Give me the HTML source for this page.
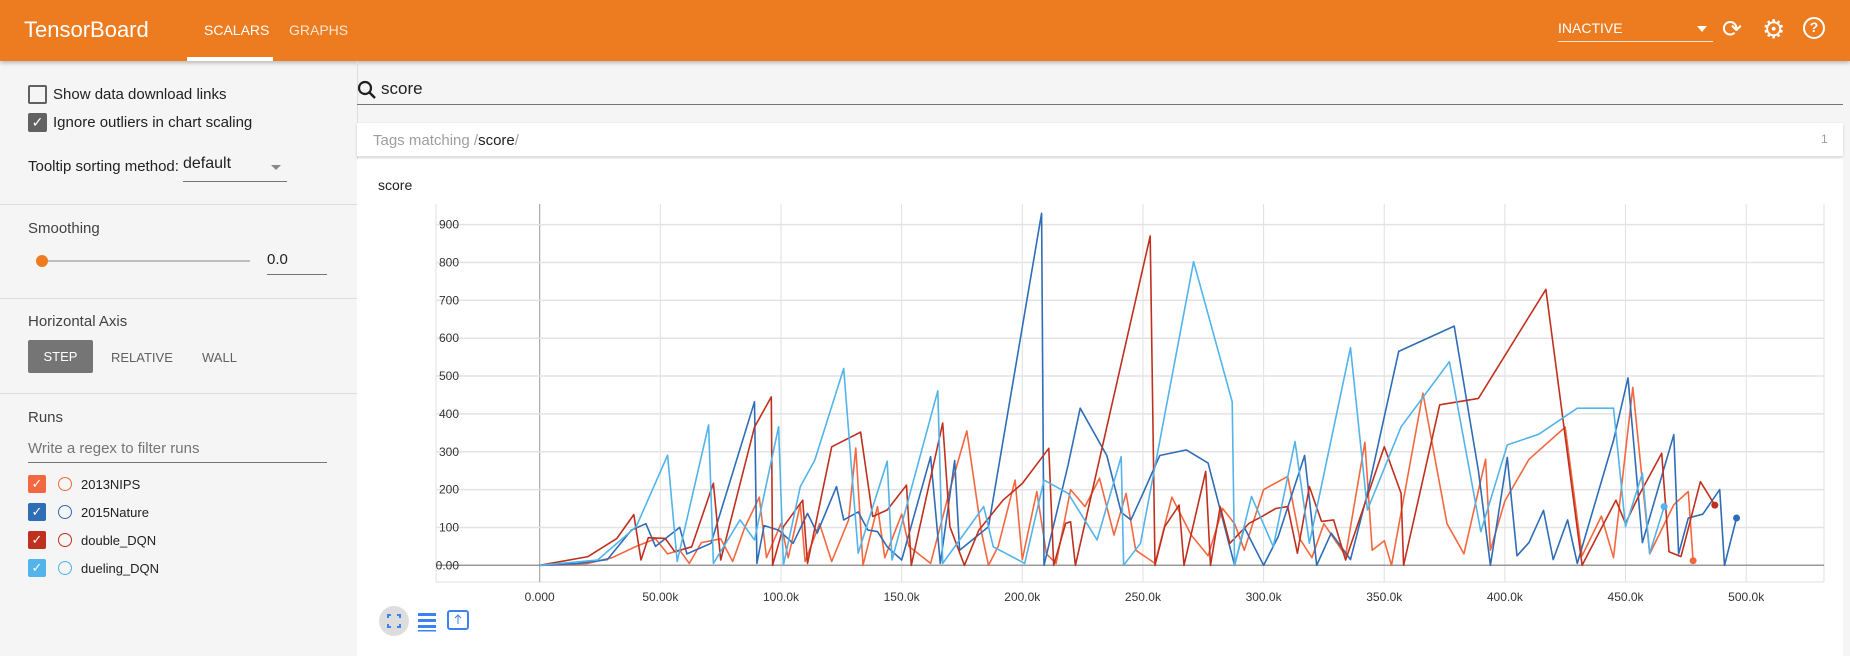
<!DOCTYPE html>
<html><head><meta charset="utf-8"><style>
*{box-sizing:border-box;margin:0;padding:0}
body{width:1850px;height:656px;overflow:hidden;background:#f5f5f5;font-family:"Liberation Sans",sans-serif;position:relative;color:#212121}
.abs{position:absolute}
#hdr{left:0;top:0;width:1850px;height:61px;background:#ec7c1f;box-shadow:0 2px 4px rgba(0,0,0,.25)}
.t15{font-size:15px}
.cb{width:19px;height:19px;border:2px solid #616161;border-radius:2px}
.div{left:0;width:357px;height:1px;background:#ddd}
</style></head><body>
<div id="hdr" class="abs">
 <div class="abs" style="left:24px;top:17px;font-size:22px;color:#fff">TensorBoard</div>
 <div class="abs" style="left:204px;top:22px;font-size:14px;color:#fff">SCALARS</div>
 <div class="abs" style="left:187px;top:57px;width:86px;height:4px;background:#fff"></div>
 <div class="abs" style="left:289px;top:22px;font-size:14px;color:rgba(255,255,255,.8)">GRAPHS</div>
 <div class="abs" style="left:1558px;top:20px;width:155px;height:22px;border-bottom:1px solid rgba(255,255,255,.8);color:#fff;font-size:14px">INACTIVE<span style="position:absolute;right:6px;top:6px;border:5px solid transparent;border-top:6px solid #fff"></span></div>
 <div class="abs" style="left:1722px;top:15px;font-size:24px;color:#fff">⟳</div>
 <div class="abs" style="left:1762px;top:14px;font-size:26px;color:#fff">⚙</div>
 <div class="abs" style="left:1803px;top:17px;width:22px;height:22px;border:2.5px solid #fff;border-radius:50%;color:#fff;font-size:14px;font-weight:bold;text-align:center;line-height:17px">?</div>
</div>
<!-- sidebar -->
<div class="abs" style="left:357px;top:61px;width:1px;height:595px;background:#ddd"></div>
<div class="abs cb" style="left:28px;top:85px"></div>
<div class="abs t15" style="left:53px;top:86px">Show data download links</div>
<div class="abs cb" style="left:28px;top:113px;background:#616161;color:#fff;font-size:14px;text-align:center;line-height:15px">✓</div>
<div class="abs t15" style="left:53px;top:114px">Ignore outliers in chart scaling</div>
<div class="abs t15" style="left:28px;top:158px">Tooltip sorting method:</div>
<div class="abs" style="left:183px;top:155px;width:104px;height:27px;border-bottom:1px solid #757575;font-size:16px">default<span style="position:absolute;right:6px;top:10px;border:5px solid transparent;border-top:5px solid #888"></span></div>
<div class="abs div" style="top:204px"></div>
<div class="abs t15" style="left:28px;top:220px;color:#424242">Smoothing</div>
<div class="abs" style="left:42px;top:260px;width:208px;height:2px;background:#bdbdbd"></div>
<div class="abs" style="left:36px;top:255px;width:12px;height:12px;border-radius:50%;background:#ec7c1f"></div>
<div class="abs" style="left:267px;top:251px;width:60px;height:24px;border-bottom:1px solid #757575;font-size:15px">0.0</div>
<div class="abs div" style="top:298px"></div>
<div class="abs t15" style="left:28px;top:313px;color:#424242">Horizontal Axis</div>
<div class="abs" style="left:28px;top:340px;width:65px;height:33px;background:#757575;color:#fff;font-size:13px;text-align:center;line-height:33px;border-radius:2px">STEP</div>
<div class="abs" style="left:111px;top:350px;font-size:13px;color:#616161">RELATIVE</div>
<div class="abs" style="left:202px;top:350px;font-size:13px;color:#616161">WALL</div>
<div class="abs div" style="top:393px"></div>
<div class="abs t15" style="left:28px;top:409px;color:#424242">Runs</div>
<div class="abs" style="left:28px;top:440px;width:299px;height:23px;border-bottom:1px solid #757575;font-size:15px;color:#757575">Write a regex to filter runs</div>
<div id="runs"></div>
<!-- main -->
<div class="abs" style="left:357px;top:80px;font-size:20px"><svg width="20" height="20"><circle cx="8" cy="8" r="6" stroke="#212121" stroke-width="2.2" fill="none"/><line x1="12" y1="12" x2="18" y2="18" stroke="#212121" stroke-width="2.5"/></svg></div>
<div class="abs" style="left:381px;top:79px;font-size:17px">score</div>
<div class="abs" style="left:357px;top:104px;width:1486px;height:1px;background:#757575"></div>
<div class="abs" style="left:357px;top:123px;width:1486px;height:33px;background:#fff;box-shadow:0 1px 3px rgba(0,0,0,.15)">
 <span class="abs" style="left:16px;top:9px;font-size:15px;color:#9e9e9e">Tags matching /<span style="color:#212121">score</span>/</span>
 <span class="abs" style="left:1464px;top:9px;font-size:12px;color:#9e9e9e">1</span>
</div>
<div class="abs" style="left:357px;top:159px;width:1486px;height:497px;background:#fff"></div>
<div class="abs" style="left:378px;top:177px;font-size:14px">score</div>
<svg id="chart" class="abs" style="left:0;top:0" width="1850" height="656"></svg>
<div class="abs" style="left:379px;top:606px;width:30px;height:30px;border-radius:50%;background:#ddd"><svg width="30" height="30"><path d="M9 12V9h3M18 9h3v3M21 18v3h-3M12 21H9v-3" stroke="#3b82f6" stroke-width="2" fill="none"/></svg></div>
<div class="abs" style="left:416px;top:610px"><svg width="22" height="22"><rect x="2" y="3" width="18" height="3" fill="#3b82f6"/><rect x="2" y="9" width="18" height="3" fill="#3b82f6"/><rect x="2" y="15" width="18" height="3" fill="#3b82f6"/><rect x="2" y="20" width="18" height="1.5" fill="#3b82f6"/></svg></div>
<div class="abs" style="left:446px;top:609px"><svg width="24" height="22"><rect x="2" y="2" width="20" height="18" rx="2" stroke="#3b82f6" stroke-width="2" fill="none"/><path d="M12 7v8M9 9l3-3 3 3" stroke="#3b82f6" stroke-width="1" fill="none"/></svg></div>
<script>
const runNames=["2013NIPS","2015Nature","double_DQN","dueling_DQN"];
const runColors=["#f4683f","#2f6db6","#c0301f","#52b4ea"];
const xTicks=[0,50,100,150,200,250,300,350,400,450,500];
const xTickLabels=["0.000","50.00k","100.0k","150.0k","200.0k","250.0k","300.0k","350.0k","400.0k","450.0k","500.0k"];
const yTicks=[0,100,200,300,400,500,600,700,800,900];
const yTickLabels=["0.00","100","200","300","400","500","600","700","800","900"];
const nipsSteps=[0,20,30,40,48,53,58,62,67,75,80,85,91,94,100,103,108,110,116,121,128,131,134,140,143,150,153,162,170,177,183,186,190,197,200,206,210,214,220,226,232,238,243,247,255,262,270,277,283,288,292,300,310,315,320,325,334,342,345,350,353,366,376,380,383,392,394,400,410,425,432,440,445,453,460,470,476,478];
const nipsScores=[0,5,20,50,70,30,40,5,60,70,10,100,180,20,110,20,160,10,110,10,120,310,0,155,20,135,50,5,200,355,90,0,50,225,15,195,30,5,200,155,230,80,190,40,5,180,80,25,150,110,40,200,235,70,20,110,25,325,40,65,0,455,110,65,30,280,40,170,280,365,25,130,20,470,30,160,195,12];
const natureSteps=[0,16,28,38,44,48,58,61,71,89,90,93,99,105,111,115,123,126,132,136,140,144,150,162,166,172,174,186,208,209,219,224,235,241,245,250,257,268,277,288,292,300,306,317,322,328,336,343,356,379,389,394,401,405,410,416,420,426,430,445,451,457,470,472,476,482,489,491,496];
const natureScores=[0,5,15,93,110,50,100,30,58,432,5,105,93,58,137,85,208,120,141,93,89,49,14,287,5,277,40,102,930,0,265,415,290,140,120,190,290,305,270,0,100,0,75,290,0,85,15,190,565,632,250,0,285,25,60,145,15,120,5,330,495,60,345,30,125,135,200,0,125];
const doubleSteps=[0,20,32,39,42,45,52,56,63,72,75,89,96,96.5,101,109,111,121,133,138,144,152,154,167,170,176,182,192,200,211,213,218,220,222,253,255,259,265,267,276,278,282,286,294,299,305,310,314,319,324,329,334,350,357,358,373,389,417,432,446,450,456,465,468,473,481,487];
const doubleScores=[0,23,71,134,14,73,71,36,49,217,14,365,445,0,102,172,5,313,352,129,146,212,0,376,102,0,93,172,216,309,0,111,115,0,870,0,102,159,0,248,0,155,58,111,128,150,155,32,208,116,120,14,313,190,0,424,441,729,0,172,111,190,296,36,23,221,159];
const duelSteps=[0,24,40,53,57,70,72,83,89,99,101,108,114,126,132,144,146,165,167,184,188,201,209,219,231,241,242,249,271,287,288,295,304,313,319,336,343,357,377,390,401,414,430,445,450,457,460,466];
const duelScores=[0,14,102,291,10,371,5,120,67,366,0,208,278,520,32,275,14,461,5,155,49,5,225,190,67,287,0,58,802,432,0,182,49,327,58,575,146,366,538,89,318,346,415,415,102,243,32,155];
const series=[[nipsSteps,nipsScores],[natureSteps,natureScores],[doubleSteps,doubleScores],[duelSteps,duelScores]];
const NS="http://www.w3.org/2000/svg";
const svg=document.getElementById('chart');
const xs=k=>539.7+k*2.413, ys=v=>565.3-v*0.3785;
const L=436,R=1824,T=204,B=582;
function mk(t,a){const e=document.createElementNS(NS,t);for(const k in a)e.setAttribute(k,a[k]);svg.appendChild(e);return e;}
let e=mk('line',{x1:L,y1:T,x2:L,y2:B,stroke:'#e0e0e0'});

e=mk('line',{x1:R,y1:T,x2:R,y2:B,stroke:'#e0e0e0'});

e=mk('line',{x1:L,y1:B,x2:R,y2:B,stroke:'#e0e0e0'});

xTicks.forEach((t,i)=>{
 const g=mk('line',{x1:xs(t),y1:T,x2:xs(t),y2:B,stroke:t===0?'#999':'#e0e0e0'});
 
 const tx=mk('text',{x:xs(t),y:601,'text-anchor':'middle','font-size':12,fill:'#333','font-family':'Liberation Sans'});
 tx.textContent=xTickLabels[i];
 
});
yTicks.forEach((t,i)=>{
 const g=mk('line',{x1:L,y1:ys(t),x2:R,y2:ys(t),stroke:t===0?'#999':'#e3e3e3','stroke-width':t===0?1.5:1.5});
 
 const tx=mk('text',{x:459,y:ys(t)+4,'text-anchor':'end','font-size':12,fill:'#333','font-family':'Liberation Sans'});
 tx.textContent=yTickLabels[i];
 
});
series.forEach((s,i)=>{
 const d=s[0].map((k,j)=>(j?'L':'M')+xs(k).toFixed(1)+' '+ys(s[1][j]).toFixed(1)).join('');
 const p=mk('path',{d:d,stroke:runColors[i],'stroke-width':1.6,fill:'none','stroke-linejoin':'round'});
 
 
 const n=s[0].length-1;
 const c=mk('circle',{cx:xs(s[0][n]),cy:ys(s[1][n]),r:3.5,fill:runColors[i]});
 
 
});
const runs=document.getElementById('runs');
runNames.forEach((n,i)=>{
 const y=475+i*28;
 const row=document.createElement('div');
 row.className='abs';row.style.cssText=`left:28px;top:${y}px;width:300px;height:20px`;
 
 
 row.innerHTML=`<div style="position:absolute;left:0;top:0;width:18px;height:18px;background:${runColors[i]};border-radius:2px;color:#fff;font-size:13px;text-align:center;line-height:18px">✓</div><div style="position:absolute;left:30px;top:2px;width:14px;height:14px;border:1.5px solid ${runColors[i]};border-radius:50%"></div><div style="position:absolute;left:53px;top:2px;font-size:13px">${n}</div>`;
 runs.appendChild(row);
});
</script>
</body></html>
